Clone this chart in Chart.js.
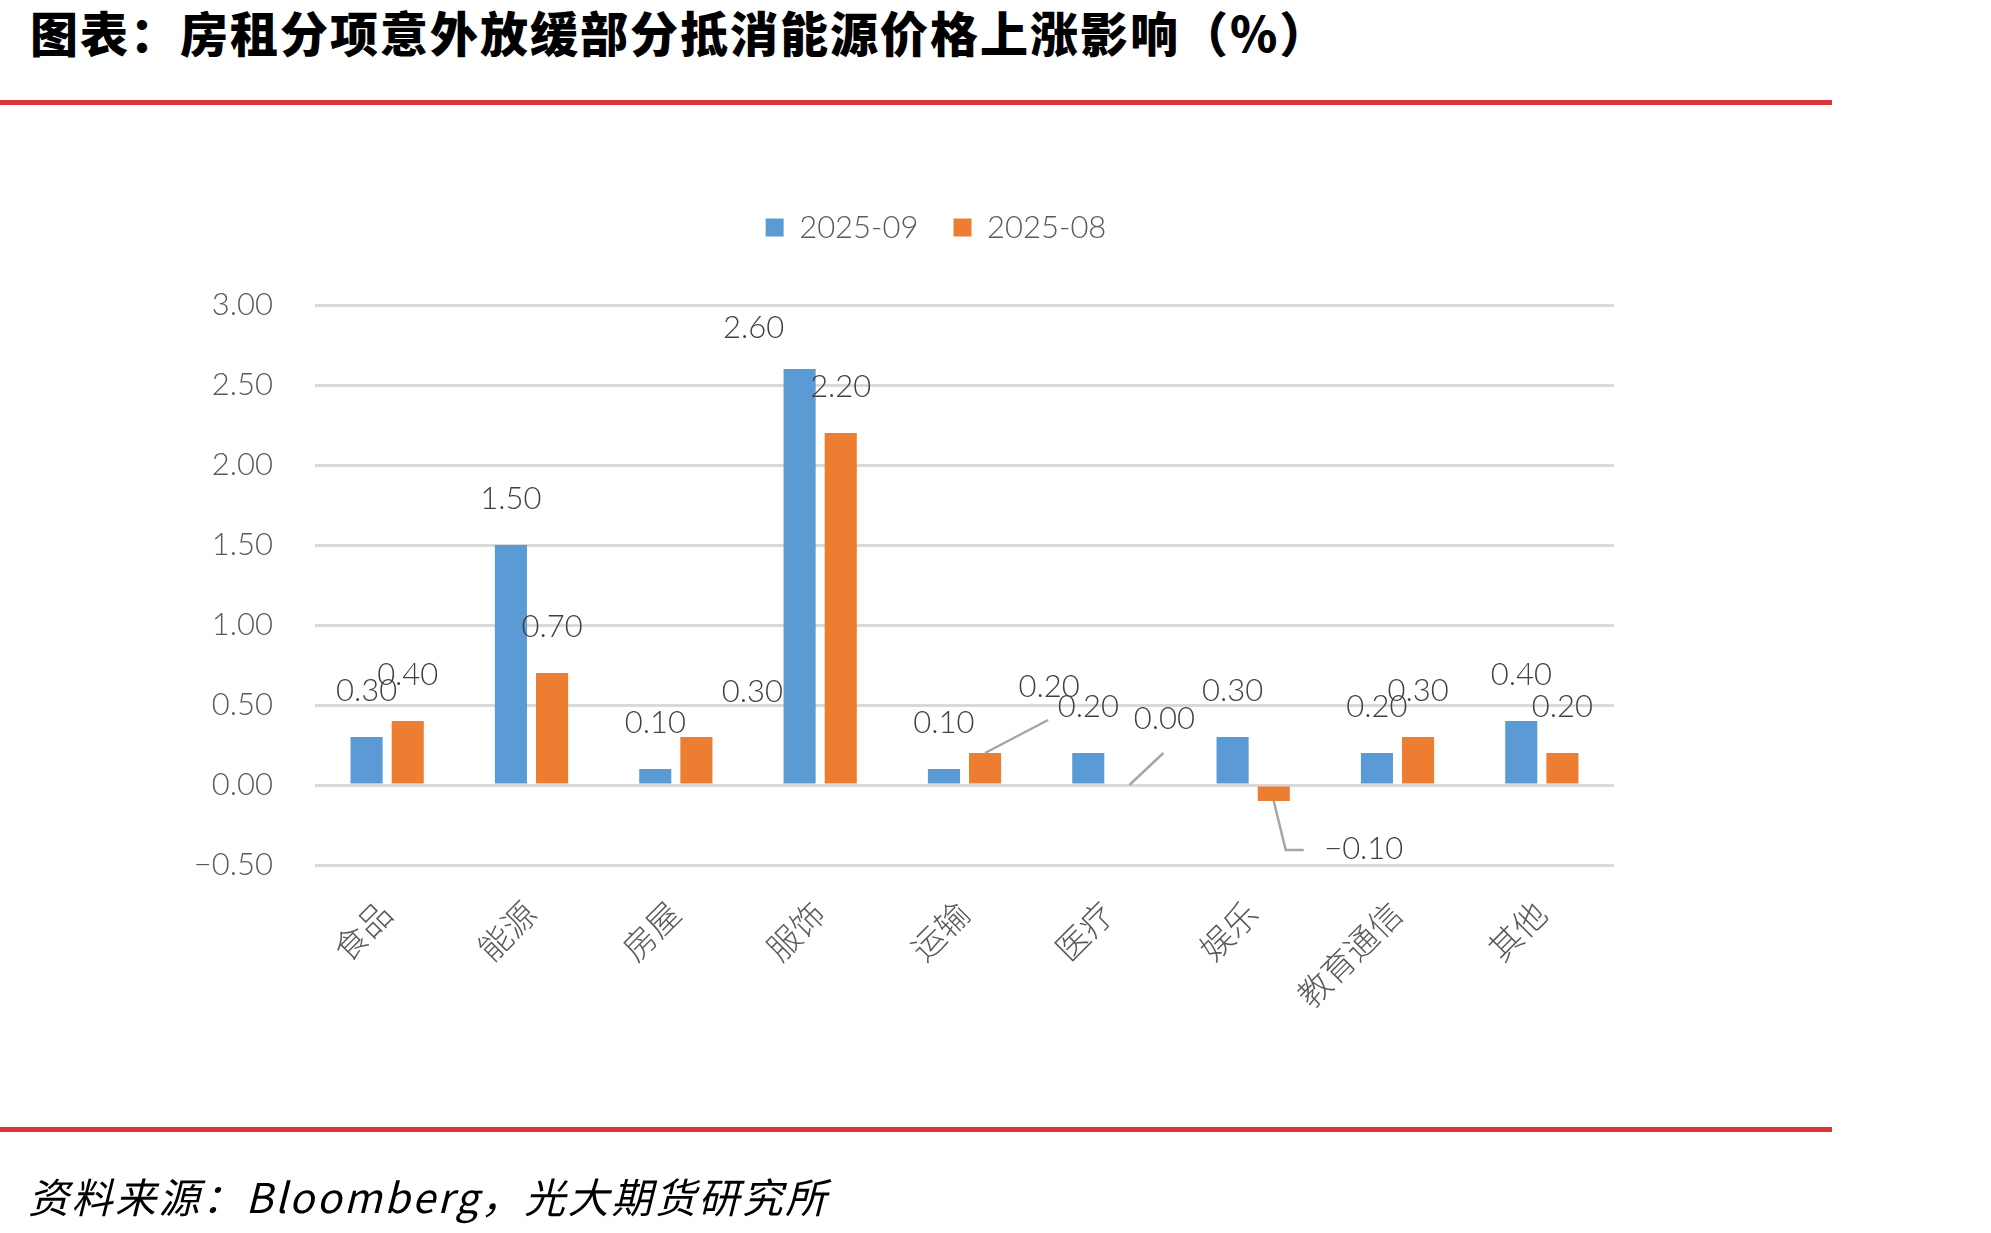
<!DOCTYPE html>
<html>
<head>
<meta charset="utf-8">
<script src="https://cdn.jsdelivr.net/npm/chart.js@4.4.1/dist/chart.umd.min.js"></script>
<style>
    body { margin: 0; background: #fff; }
    #page { position: relative; width: 1991px; height: 1233px; overflow: hidden; }
    #title { position: absolute; left: 30px; top: -4px; font: 900 48px 'Noto Sans CJK SC'; letter-spacing: 2px; color: #000; white-space: nowrap; }
    .rule { position: absolute; left: 0; width: 1832px; height: 5px; background: #D8363B; }
    #source { position: absolute; left: 28px; top: 1165px; font: italic 41px 'Noto Sans CJK SC'; letter-spacing: 2.5px; color: #000; white-space: nowrap; }
    #chartBox { position: absolute; left: 0; top: 0; width: 1991px; height: 1233px; }
</style>
</head>
<body>
<div id="page">
    <div id="title">图表：房租分项意外放缓部分抵消能源价格上涨影响（%）</div>
    <div class="rule" style="top:100px"></div>
    <div id="chartBox"><canvas id="myChart"></canvas></div>
    <div class="rule" style="top:1127px"></div>
    <div id="source">资料来源：Bloomberg，光大期货研究所</div>
</div>
<script>
const categories = ['食品', '能源', '房屋', '服饰', '运输', '医疗', '娱乐', '教育通信', '其他'];
const seriesNames = ['2025-09', '2025-08'];
const sep2025 = [0.30, 1.50, 0.10, 2.60, 0.10, 0.20, 0.30, 0.20, 0.40];
const aug2025 = [0.40, 0.70, 0.30, 2.20, 0.20, 0.00, -0.10, 0.30, 0.20];
const yTicks = [-0.5, 0, 0.5, 1, 1.5, 2, 2.5, 3];

// where each value label sits, relative to the end of its bar (px)
const sepLabelShift = [[0,-46],[0,-46],[0,-46],[-46,-41],[0,-46],[0,-46],[0,-46],[0,-46],[0,-46]];
const augLabelShift = [[0,-46],[0,-46],[56,-45],[0,-46],[64,-66],[35,-66],[90,48],[0,-46],[0,-46]];
// leader lines: points relative to the label centre
const sepLeaders = [null,null,null,null,null,null,null,null,null];
const augLeaders = [null,null,null,null,[[-1,33]],[[-1,34]],[[-78,1],[-60,1]],null,null];

const labelShifts = [sepLabelShift, augLabelShift];
const leaders = [sepLeaders, augLeaders];

const fontFamily = "Lato, 'Noto Sans CJK SC', sans-serif";
const fmt = v => Number(v).toFixed(2).replace('-', '\u2212');

// more room under the legend, and nudge it right like the original
const legendGap = {
    id: 'legendGap',
    afterInit(chart) {
        const legend = chart.legend;
        const fit = legend.fit;
        const draw = legend.draw;
        legend.fit = function () {
            fit.call(this);
            this.height += 52;
        };
        legend.draw = function () {
            this.ctx.save();
            this.ctx.translate(39, 0);
            draw.call(this);
            this.ctx.restore();
        };
    }
};

const barLabels = {
    id: 'barLabels',
    afterDatasetsDraw(chart) {
        const ctx = chart.ctx;
        ctx.save();
        ctx.font = '300 31px ' + fontFamily;
        ctx.fillStyle = '#404040';
        ctx.textAlign = 'center';
        ctx.textBaseline = 'middle';
        ctx.strokeStyle = '#A6A6A6';
        ctx.lineWidth = 2.5;
        chart.data.datasets.forEach((ds, d) => {
            chart.getDatasetMeta(d).data.forEach((bar, i) => {
                const lx = bar.x + labelShifts[d][i][0];
                const ly = bar.y + labelShifts[d][i][1];
                const path = leaders[d][i];
                if (path) {
                    ctx.beginPath();
                    ctx.moveTo(bar.x, bar.y);
                    path.forEach(p => ctx.lineTo(lx + p[0], ly + p[1]));
                    ctx.stroke();
                }
                ctx.fillText(fmt(ds.data[i]), lx, ly);
            });
        });
        ctx.restore();
    }
};

const ctx = document.getElementById('myChart');

new Chart(ctx, {
    type: 'bar',
    data: {
        labels: categories,
        datasets: [
            {
                label: seriesNames[0],
                data: sep2025,
                backgroundColor: '#5B9BD5',
                borderWidth: 0,
                categoryPercentage: 0.57,
                barPercentage: 0.78
            },
            {
                label: seriesNames[1],
                data: aug2025,
                backgroundColor: '#ED7D31',
                borderWidth: 0,
                categoryPercentage: 0.57,
                barPercentage: 0.78
            }
        ]
    },
    options: {
        responsive: true,
        maintainAspectRatio: false,
        animation: false,
        layout: { padding: { left: 180, right: 377, top: 177, bottom: 168 } },
        plugins: {
            legend: {
                position: 'top',
                align: 'center',
                labels: {
                    font: { family: fontFamily, size: 31, weight: 300 },
                    color: '#595959',
                    boxWidth: 18,
                    boxHeight: 18,
                    padding: 35
                }
            },
            tooltip: { enabled: false }
        },
        scales: {
            x: {
                grid: { display: false },
                border: { display: false },
                ticks: {
                    font: { family: fontFamily, size: 33, weight: 300 },
                    color: '#595959',
                    minRotation: 45,
                    maxRotation: 45,
                    padding: 22
                },
                afterFit(scale) { scale.height = 200; }
            },
            y: {
                min: yTicks[0],
                max: yTicks[yTicks.length - 1],
                grid: { color: '#D9D9D9', lineWidth: 3, drawTicks: false },
                border: { display: false },
                ticks: {
                    stepSize: yTicks[1] - yTicks[0],
                    padding: 42,
                    font: { family: fontFamily, size: 31, weight: 300 },
                    color: '#595959',
                    callback: function (value) {
                        return fmt(value);
                    }
                },
                afterFit(scale) { scale.width = 135; }
            }
        }
    },
    plugins: [legendGap, barLabels]
});
</script>
</body>
</html>
